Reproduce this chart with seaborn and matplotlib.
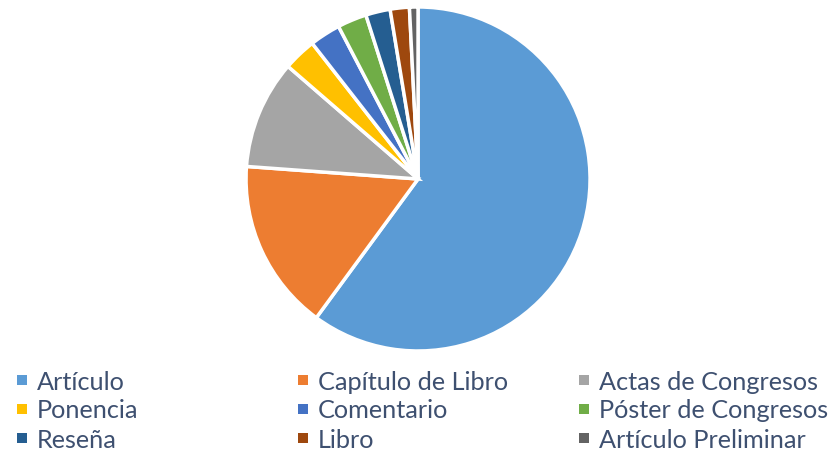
import matplotlib
matplotlib.use("Agg")
import matplotlib.pyplot as plt
import seaborn as sns
from matplotlib.patches import Rectangle

categories = ["Artículo", "Capítulo de Libro", "Actas de Congresos", "Ponencia",
              "Comentario", "Póster de Congresos", "Reseña", "Libro", "Artículo Preliminar"]
values = [60.1, 16.1, 10.2, 3.1, 2.9, 2.75, 2.3, 1.8, 0.8]
colors = ["#5B9BD5", "#ED7D31", "#A5A5A5", "#FFC000", "#4472C4",
          "#70AD47", "#255E91", "#9E480E", "#636363"]

sns.set_theme(style="white")
plt.rcParams['font.family'] = ['Lato', 'DejaVu Sans']

W, H = 836, 453
fig = plt.figure(figsize=(W / 100, H / 100), dpi=100)
ax = fig.add_axes([0.2943, 0.2252, 0.4115, 0.7594])
ax.pie(values, colors=colors, startangle=90, counterclock=False, radius=1,
       wedgeprops=dict(edgecolor="white", linewidth=2.5))
ax.set_xlim(-1.0, 1.0)
ax.set_ylim(-1.0, 1.0)
ax.set_aspect("equal")
ax.axis("off")

# legend laid out row-wise in 3 columns
col_x = [17, 298, 579]
row_y = [380, 409, 438]
sq = 10
for i, (lab, c) in enumerate(zip(categories, colors)):
    x0 = col_x[i % 3]
    y0 = row_y[i // 3]
    fig.patches.append(Rectangle(((x0) / W, 1 - (y0 + sq / 2) / H), sq / W, sq / H,
                                 transform=fig.transFigure, facecolor=c,
                                 edgecolor="none"))
    fig.text((x0 + sq + 10) / W, 1 - y0 / H, lab, ha="left", va="center_baseline",
             fontsize=18.2, color="#3E5070")

fig.savefig("out.png", dpi=100)
